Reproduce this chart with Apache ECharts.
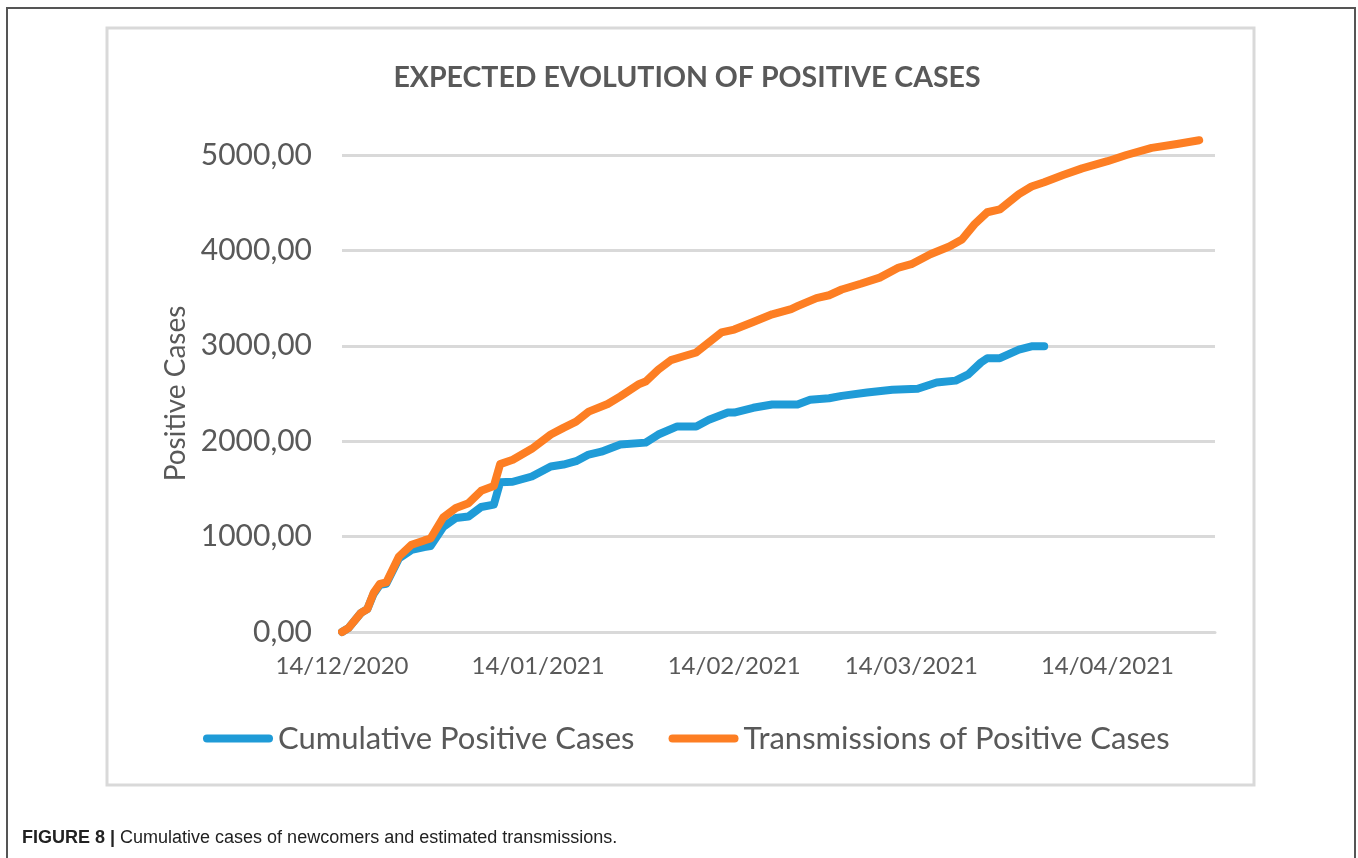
<!DOCTYPE html>
<html>
<head>
<meta charset="utf-8">
<title>Expected evolution of positive cases</title>
<script src="https://cdn.jsdelivr.net/npm/echarts@6/dist/echarts.min.js"></script>
<style>
  html, body { margin: 0; padding: 0; background: #fff; }
  #chart { width: 1358px; height: 858px; }
</style>
</head>
<body>
<div id="chart"></div>
<script>
// days counted from 14/12/2020
const tickDays = [0, 31, 62, 90, 121]
const tickLabels = ['14/12/2020', '14/01/2021', '14/02/2021', '14/03/2021', '14/04/2021']

// Cumulative Positive Cases
const cumulativeDays = [0, 1, 3, 4, 5, 6, 7, 9, 11, 13, 14, 16, 18, 20, 22, 24, 25, 27, 30, 33, 35, 37, 39, 41, 44, 48, 50, 53, 56, 58, 61, 62, 65, 68, 72, 74, 77, 79, 83, 87, 91, 94, 97, 99, 101, 102, 104, 107, 109, 111]
const cumulativeValues = [0, 40, 200, 240, 400, 495, 505, 770, 860, 890, 900, 1100, 1195, 1210, 1310, 1335, 1570, 1575, 1630, 1735, 1755, 1790, 1860, 1890, 1965, 1985, 2070, 2155, 2155, 2225, 2300, 2300, 2350, 2385, 2385, 2435, 2450, 2475, 2510, 2540, 2550, 2615, 2635, 2700, 2825, 2870, 2870, 2960, 2995, 2995]

// Transmissions of Positive Cases
const transmissionDays = [0, 1, 3, 4, 5, 6, 7, 9, 11, 13, 14, 16, 18, 20, 22, 24, 25, 27, 30, 33, 35, 37, 39, 42, 44, 47, 48, 50, 52, 54, 56, 58, 60, 62, 65, 68, 71, 72, 75, 77, 79, 82, 85, 88, 90, 93, 96, 98, 100, 102, 104, 107, 109, 111, 114, 117, 121, 124, 128, 132, 135.5]
const transmissionValues = [0, 40, 200, 240, 410, 505, 520, 790, 915, 960, 980, 1200, 1300, 1350, 1480, 1530, 1760, 1805, 1920, 2070, 2140, 2205, 2310, 2390, 2470, 2600, 2625, 2750, 2850, 2890, 2930, 3035, 3140, 3170, 3250, 3330, 3385, 3415, 3500, 3530, 3590, 3650, 3715, 3820, 3855, 3960, 4040, 4115, 4275, 4400, 4430, 4590, 4670, 4715, 4790, 4860, 4935, 5000, 5075, 5115, 5155]

const zip = (xs, ys) => xs.map((x, i) => [x, ys[i]])

const textColor = '#595959'
const gridColor = '#d9d9d9'
const font = 'Lato, "Open Sans", sans-serif'
const captionFont = '"Liberation Sans", Arial, sans-serif'

const chart = echarts.init(document.getElementById('chart'), null, { renderer: 'canvas' })

const option = {
  backgroundColor: '#fff',
  animation: false,
  title: {
    text: 'EXPECTED EVOLUTION OF POSITIVE CASES',
    left: 682,
    textAlign: 'center',
    top: 58,
    textStyle: { color: textColor, fontFamily: font, fontWeight: 'bold', fontSize: 28.5 }
  },
  legend: {
    left: 198,
    top: 718,
    itemWidth: 70,
    itemHeight: 8,
    itemGap: 34,
    icon: 'path://M4,0 H66 A4,4 0 0 1 66,8 H4 A4,4 0 0 1 4,0 Z',
    textStyle: { color: textColor, fontFamily: font, fontSize: 31 },
    data: ['Cumulative Positive Cases', 'Transmissions of Positive Cases']
  },
  grid: { left: 342, right: 143, top: 155, bottom: 226, containLabel: false },
  xAxis: {
    type: 'value',
    min: 0,
    max: 138,
    axisLine: { show: true, lineStyle: { color: gridColor, width: 3 } },
    axisTick: { show: false, customValues: tickDays },
    splitLine: { show: false },
    axisLabel: {
      customValues: tickDays,
      margin: 22,
      color: textColor,
      fontFamily: font,
      fontSize: 24,
      formatter: v => tickLabels[tickDays.indexOf(v)]
    }
  },
  yAxis: {
    type: 'value',
    min: 0,
    max: 5000,
    interval: 1000,
    name: 'Positive Cases',
    nameLocation: 'middle',
    nameGap: 150,
    nameRotate: 90,
    nameTextStyle: { color: textColor, fontFamily: font, fontSize: 28 },
    axisLine: { show: false },
    axisTick: { show: false },
    splitLine: { lineStyle: { color: gridColor, width: 3 } },
    axisLabel: {
      margin: 30,
      color: textColor,
      fontFamily: font,
      fontSize: 30,
      formatter: v => v.toFixed(2).replace('.', ',')
    }
  },
  series: [
    {
      name: 'Cumulative Positive Cases',
      type: 'line',
      data: zip(cumulativeDays, cumulativeValues),
      symbol: 'none',
      clip: false,
      color: '#1f9bd7',
      lineStyle: { width: 8, cap: 'round', join: 'round' }
    },
    {
      name: 'Transmissions of Positive Cases',
      type: 'line',
      data: zip(transmissionDays, transmissionValues),
      symbol: 'none',
      clip: false,
      color: '#fd7e23',
      lineStyle: { width: 8, cap: 'round', join: 'round' }
    }
  ],
  graphic: [
    // figure frame
    {
      type: 'rect',
      shape: { x: 7, y: 8, width: 1348, height: 870 },
      style: { fill: 'none', stroke: '#555', lineWidth: 2 },
      silent: true
    },
    // chart area border
    {
      type: 'rect',
      shape: { x: 107, y: 28, width: 1147, height: 757 },
      style: { fill: 'none', stroke: gridColor, lineWidth: 3 },
      silent: true
    },
    {
      type: 'text',
      left: 22,
      top: 829,
      style: {
        text: '{b|FIGURE 8 |} Cumulative cases of newcomers and estimated transmissions.',
        fill: '#222',
        font: '18px ' + captionFont,
        rich: {
          b: { fontWeight: 'bold', fontSize: 18, fontFamily: captionFont, fill: '#222' }
        }
      }
    }
  ]
}

chart.setOption(option)
</script>
</body>
</html>
